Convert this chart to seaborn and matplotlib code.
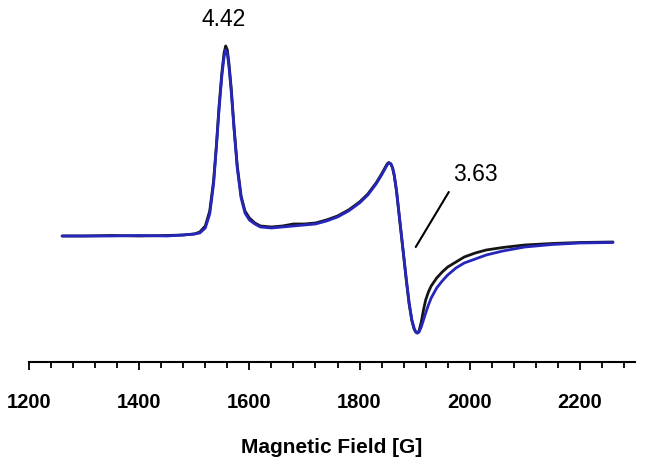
import numpy as np
import pandas as pd
import matplotlib.pyplot as plt
import seaborn as sns
from matplotlib.ticker import MultipleLocator

# EPR spectra (signal in arbitrary units, baseline = 0)
field_black = [1260, 1300, 1350, 1400, 1450, 1480, 1500, 1510, 1520, 1528, 1535, 1540,
               1545, 1550, 1554, 1557, 1560, 1563, 1567, 1572, 1578, 1585, 1592, 1600,
               1610, 1620, 1640, 1660, 1680, 1700, 1720, 1740, 1760, 1780, 1800, 1815,
               1830, 1840, 1846, 1850, 1853, 1857, 1860, 1863, 1867, 1871, 1875, 1880,
               1885, 1890, 1895, 1899, 1902, 1905, 1908, 1912, 1916, 1920, 1925, 1930,
               1940, 1950, 1960, 1975, 1990, 2010, 2030, 2060, 2100, 2150, 2200, 2260]
signal_black = [0, 0, 0.5, 0, 0.5, 1, 2, 4, 10, 25, 55, 90,
                130, 163, 183, 190, 186, 172, 148, 110, 70, 40, 25, 18,
                13, 10, 9, 10, 12, 12, 13, 16, 20, 26, 34, 42,
                53, 62, 68, 72, 73.5, 72, 68, 60, 45, 25, 5, -20,
                -45, -68, -85, -93, -96, -97, -95, -86, -74, -64, -56, -50,
                -42, -36, -31, -26, -21, -17, -14, -11.5, -9, -7.5, -6.5, -6]

field_blue = [1260, 1300, 1350, 1400, 1450, 1480, 1500, 1510, 1520, 1528, 1535, 1540,
              1545, 1550, 1554, 1557, 1560, 1563, 1567, 1572, 1578, 1585, 1592, 1600,
              1610, 1620, 1640, 1660, 1680, 1700, 1720, 1740, 1760, 1780, 1800, 1815,
              1830, 1840, 1846, 1850, 1853, 1857, 1860, 1863, 1867, 1871, 1875, 1880,
              1885, 1890, 1895, 1899, 1902, 1905, 1908, 1912, 1916, 1920, 1925, 1930,
              1940, 1950, 1960, 1975, 1990, 2010, 2030, 2060, 2100, 2150, 2200, 2260]
signal_blue = [0, 0, 0, 0.5, 0, 1, 2, 3, 8, 22, 52, 88,
               127, 160, 179, 186, 182, 169, 145, 108, 68, 38, 23, 16,
               12, 9, 8, 9, 10, 11, 12, 15, 19, 25, 33, 41,
               52, 61, 67, 71, 73, 72, 68, 61, 46, 26, 6, -19,
               -44, -67, -84, -92, -96, -97, -96, -91, -84, -77, -69, -62,
               -52, -45, -39, -32, -27, -23, -19, -15, -11, -8.5, -7, -6.5]

ticks = [1200, 1400, 1600, 1800, 2000, 2200]

df = pd.concat([
    pd.DataFrame({"field": field_black, "signal": signal_black, "sample": "black"}),
    pd.DataFrame({"field": field_blue, "signal": signal_blue, "sample": "blue"}),
])

sns.set_style("white")
plt.rcParams["font.family"] = ["Liberation Sans", "DejaVu Sans"]
plt.rcParams["text.color"] = "black"
plt.rcParams["xtick.color"] = "black"
plt.rcParams["axes.labelcolor"] = "black"

fig = plt.figure(figsize=(6.45, 4.71), dpi=100)
ax = fig.add_axes([0.045, 0.2314, 0.9395, 0.705])

sns.lineplot(data=df, x="field", y="signal", hue="sample", estimator=None, sort=True,
             palette={"black": "#151515", "blue": "#2626bb"}, linewidth=2.0,
             legend=False, ax=ax)

ax.set_xlim(1200, 2300)
ax.set_ylim(-126, 206)
ax.set_xticks(ticks)
ax.set_xticklabels([str(t) for t in ticks], fontsize=14.5, fontweight="bold")
ax.xaxis.set_minor_locator(MultipleLocator(40))
ax.tick_params(axis="x", which="major", direction="out", length=6, width=1.3,
               color="black", labelcolor="black", pad=16, bottom=True)
ax.tick_params(axis="x", which="minor", direction="out", length=4.3, width=1.3,
               color="black", bottom=True)
ax.set_yticks([])
ax.set_ylabel("")
ax.set_xlabel("Magnetic Field [G]", fontsize=15, fontweight="bold", labelpad=19,
              color="black")

for side in ["left", "top", "right"]:
    ax.spines[side].set_visible(False)
ax.spines["bottom"].set_linewidth(1.5)
ax.spines["bottom"].set_color("black")

ax.text(1553, 216, "4.42", fontsize=16.5, ha="center", va="center", clip_on=False,
        color="black")
ax.text(2011, 61, "3.63", fontsize=16.5, ha="center", va="center", color="black")
ax.plot([1962, 1902], [44, -11], color="black", linewidth=1.5)

fig.savefig("out.png", dpi=100)
